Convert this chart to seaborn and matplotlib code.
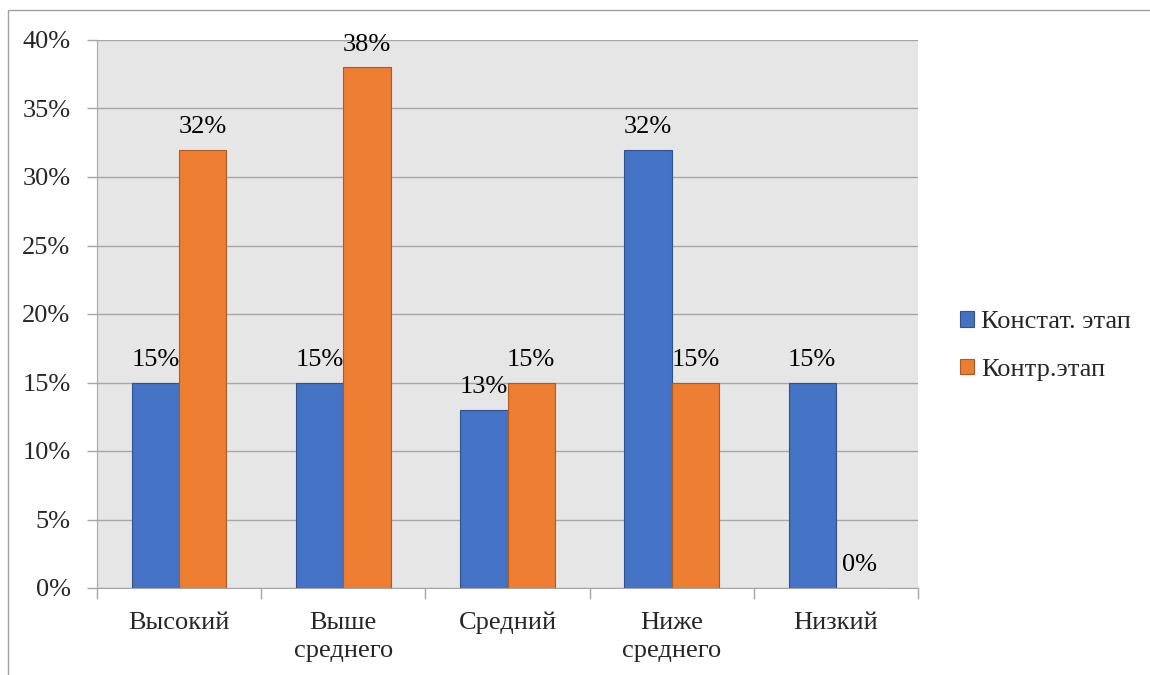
import pandas as pd
import matplotlib.pyplot as plt
import seaborn as sns
from matplotlib.patches import Rectangle
from matplotlib.ticker import PercentFormatter, FixedLocator

# data
levels = ["Высокий", "Выше\nсреднего", "Средний", "Ниже\nсреднего", "Низкий"]
konstat = [15, 15, 13, 32, 15]
kontr = [32, 38, 15, 15, 0]
series_names = ["Констат. этап", "Контр.этап"]

df = pd.DataFrame({
    "level": levels * 2,
    "value": konstat + kontr,
    "stage": [series_names[0]] * len(levels) + [series_names[1]] * len(levels),
})

sns.set_style("white")
plt.rcParams["font.family"] = ["Liberation Serif", "DejaVu Serif"]
fs = 19

fig = plt.figure(figsize=(11.5, 6.75), dpi=100)
ax = fig.add_axes([97 / 1150, 1 - 588 / 675, (918 - 97) / 1150, (588 - 40) / 675])
ax.set_facecolor("#e7e6e6")

sns.barplot(
    data=df, x="level", y="value", hue="stage",
    palette=["#4472c4", "#ed7d31"], width=0.575, gap=0, ax=ax,
    saturation=1, legend=True,
)

edge_cols = ["#2f528f", "#ae5a21"]
for cont, ec in zip(ax.containers, edge_cols):
    for p in cont:
        p.set_edgecolor(ec)
        p.set_linewidth(0.8)
    ax.bar_label(cont, fmt="{:.0f}%", padding=8.5, fontsize=fs, color="#000000")

handles, labels = ax.get_legend_handles_labels()
ax.get_legend().remove()
for h, ec in zip(handles, edge_cols):
    h.set_edgecolor(ec)
    h.set_linewidth(0.8)
leg = fig.legend(handles, labels, loc="center left", bbox_to_anchor=(936 / 1150, 1 - 346 / 675),
                 frameon=False, fontsize=fs, handlelength=0.55, handleheight=0.55,
                 handletextpad=0.25, labelspacing=0.95)

# axes
ax.set_ylim(0, 40)
ax.set_xlim(-0.5, len(levels) - 0.5)
ax.set_yticks(range(0, 41, 5))
ax.yaxis.set_major_formatter(PercentFormatter(decimals=0))
ax.grid(axis="y", color="#a6a6a6", linewidth=1)
ax.set_axisbelow(True)
ax.set_xlabel("")
ax.set_ylabel("")

for s in ["top", "right"]:
    ax.spines[s].set_visible(False)
ax.spines["left"].set_color("#a6a6a6")
ax.spines["bottom"].set_color("#a6a6a6")

ax.tick_params(axis="y", length=7, width=1, color="#a6a6a6", pad=12, labelsize=fs, left=True)
ax.tick_params(axis="x", which="major", length=0, pad=17, labelsize=fs)
ax.xaxis.set_minor_locator(FixedLocator([i - 0.5 for i in range(len(levels) + 1)]))
ax.tick_params(axis="x", which="minor", length=8, width=1, color="#a6a6a6", bottom=True)
for t in ax.get_xticklabels():
    t.set_linespacing(1.4)

# outer chart border
fig.patches.append(Rectangle((8 / 1150, -1), 2, 1 + (1 - 10 / 675), transform=fig.transFigure,
                             fill=False, edgecolor="#a0a0a0", linewidth=1))

fig.savefig("out.png", dpi=100)
